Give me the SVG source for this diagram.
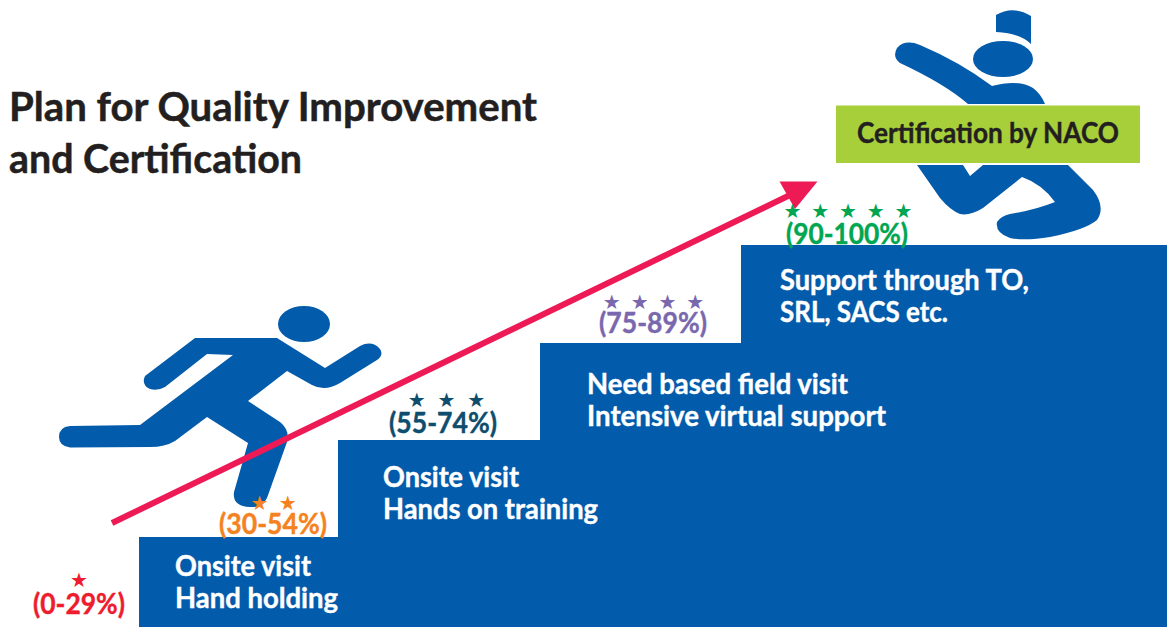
<svg xmlns="http://www.w3.org/2000/svg" width="1167" height="627" viewBox="0 0 1167 627">
<style>
text{font-family:"Lato","Carlito","Open Sans",sans-serif;font-weight:700}
.b{fill:#035bab}
.w{fill:#fff;stroke:#fff;stroke-width:.4px;font-size:28px}
.t{fill:#231f20;stroke:#231f20;stroke-width:.5px;font-size:40px}
.p{font-size:28px;stroke-width:.4px;text-anchor:start}
.s{font-family:"DejaVu Sans",sans-serif;font-weight:400;font-size:20px;text-anchor:middle;word-spacing:3.500px}
</style>
<rect width="1167" height="627" fill="#fff"/>
<g id="runner-finish">
<path class="b" d="M996 32V15Q1013 5 1031 16V44Q1020 33 996 32Z"/>
<ellipse class="b" cx="1003" cy="59" rx="30" ry="18"/>
<path class="b" d="M897 48Q905 39 920 45Q960 62 992 86Q1018 79 1033 88Q1041 94 1045 104H968Q945 84 900 63Q892 57 897 48Z"/>
<path class="b" d="M917 165H963L970 176L983 165H1068L1093 190Q1106 207 1097 220Q1085 230 1050 237Q1025 241 1010 238Q995 233 997 222Q1001 216 1010 214Q1035 210 1055 202Q1042 184 1022 177L983 208Q970 216 960 214Q950 210 940 198Z"/>
</g>
<g id="runner-start">
<ellipse class="b" cx="304" cy="324" rx="26" ry="18"/>
<path class="b" d="M195 338H277L325 368L360 346Q372 340 380 349Q384 355 377 360L340 383Q325 392 312 385L287 371L248 401L280 422Q290 430 287 442L267 498Q262 508 250 507Q232 506 234 492L248 443L207 417L175 441Q165 447 150 447L70 447.500Q59 446 59 437Q59 427 70 426L140 425L233 355L207 354L165 387Q158 391 150 389Q141 385 145 376Z"/>
</g>
<g id="steps">
<path class="b" d="M139 627V537H338V440H540V343H741V245H1167V627Z"/>
</g>
<g id="connectors">
<path d="M112 523L790 195" stroke="#ee1a56" stroke-width="6" fill="none"/>
<path d="M779.500 181.500H817.500L795 209Z" fill="#ee1a56"/>
</g>
<g id="title">
<text class="t" x="9" y="121" textLength="528" lengthAdjust="spacingAndGlyphs">Plan for Quality Improvement</text>
<text class="t" x="9" y="173" textLength="293" lengthAdjust="spacingAndGlyphs">and Certification</text>
</g>
<g id="certification">
<rect x="836" y="105.500" width="304" height="57.500" fill="#a7cf3a"/>
<text x="857" y="143" fill="#231f20" stroke="#231f20" stroke-width=".4" font-size="28" textLength="262" lengthAdjust="spacingAndGlyphs">Certification by NACO</text>
</g>
<g id="level-0">
<text class="s" x="79" y="587" fill="#ed1c2e">★</text>
<text class="p" x="33" y="614" fill="#ed1c2e" stroke="#ed1c2e" textLength="92" lengthAdjust="spacingAndGlyphs">(0-29%)</text>
</g>
<g id="level-1">
<text class="s" x="273.500" y="510" fill="#f58220" style="word-spacing:4px">★ ★</text>
<text class="p" x="219" y="534" fill="#f58220" stroke="#f58220" textLength="108" lengthAdjust="spacingAndGlyphs">(30-54%)</text>
<text class="w" x="175" y="576" textLength="136" lengthAdjust="spacingAndGlyphs">Onsite visit</text>
<text class="w" x="175" y="608" textLength="163" lengthAdjust="spacingAndGlyphs">Hand holding</text>
</g>
<g id="level-2">
<text class="s" x="446.500" y="407" fill="#0e4d6e" style="word-spacing:5.500px">★ ★ ★</text>
<text class="p" x="389" y="433" fill="#0e4d6e" stroke="#0e4d6e" textLength="108" lengthAdjust="spacingAndGlyphs">(55-74%)</text>
<text class="w" x="383" y="487" textLength="136" lengthAdjust="spacingAndGlyphs">Onsite visit</text>
<text class="w" x="383" y="519" textLength="215" lengthAdjust="spacingAndGlyphs">Hands on training</text>
</g>
<g id="level-3">
<text class="s" x="653.500" y="309" fill="#7a68ae">★ ★ ★ ★</text>
<text class="p" x="599" y="333" fill="#7a68ae" stroke="#7a68ae" textLength="108" lengthAdjust="spacingAndGlyphs">(75-89%)</text>
<text class="w" x="587" y="394" textLength="261" lengthAdjust="spacingAndGlyphs">Need based field visit</text>
<text class="w" x="587" y="426" textLength="299" lengthAdjust="spacingAndGlyphs">Intensive virtual support</text>
</g>
<g id="level-4">
<text class="s" x="848" y="218" fill="#00a651">★ ★ ★ ★ ★</text>
<text class="p" x="786" y="244" fill="#00a651" stroke="#00a651" textLength="122" lengthAdjust="spacingAndGlyphs">(90-100%)</text>
<text class="w" x="780" y="290" textLength="249" lengthAdjust="spacingAndGlyphs">Support through TO,</text>
<text class="w" x="780" y="322" textLength="168" lengthAdjust="spacingAndGlyphs">SRL, SACS etc.</text>
</g>
</svg>
